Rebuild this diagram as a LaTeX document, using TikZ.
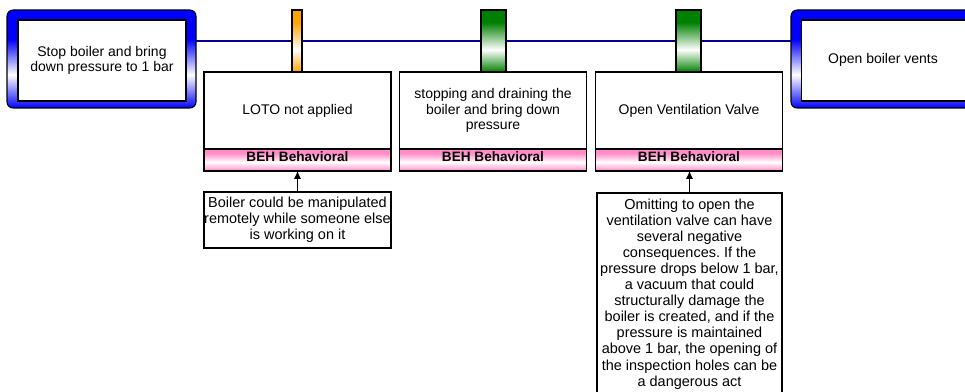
\documentclass[tikz,border=0pt]{standalone}
\usepackage{fontspec}
\setmainfont{Liberation Sans}
\usetikzlibrary{arrows.meta}
\frenchspacing

\definecolor{framebl}{RGB}{0,0,255}
\definecolor{railbl}{RGB}{0,0,140}
\definecolor{taborange}{RGB}{255,165,0}
\definecolor{tabgreen}{RGB}{0,128,0}
\definecolor{bandpink}{RGB}{255,140,200}

% vertical colour bands: 0bp = bottom, the 25bp..75bp range covers the shape
\pgfdeclareverticalshading{frameshade}{100bp}{color(0bp)=(framebl); color(25bp)=(framebl); color(42bp)=(white); color(60bp)=(framebl); color(100bp)=(framebl)}
\pgfdeclareverticalshading{orangeshade}{100bp}{color(0bp)=(taborange); color(25bp)=(taborange); color(43bp)=(white); color(65bp)=(taborange); color(100bp)=(taborange)}
\pgfdeclareverticalshading{greenshade}{100bp}{color(0bp)=(tabgreen); color(25bp)=(tabgreen); color(43bp)=(white); color(65bp)=(tabgreen); color(100bp)=(tabgreen)}
\pgfdeclareverticalshading{pinkshade}{100bp}{color(0bp)=(bandpink); color(25bp)=(bandpink); color(45bp)=(white); color(66bp)=(bandpink); color(75bp)=(bandpink); color(100bp)=(bandpink)}

\begin{document}
\begin{tikzpicture}[x=0.75pt,y=-0.75pt,
  every node/.style={outer sep=0pt, inner sep=0pt, font=\fontsize{10.5}{11.7}\selectfont},
  boxline/.style={draw=black, line width=0.8pt},
  frame/.style={boxline, rounded corners=4.5pt, shading=frameshade,
    minimum width=141.75pt, minimum height=73.5pt},
  framein/.style={boxline, fill=white, minimum width=126pt, minimum height=60.75pt, align=center},
  tabshape/.style={boxline, minimum height=46.5pt},
  event/.style={boxline, fill=white, minimum width=140.25pt, minimum height=57.75pt, align=center},
  band/.style={boxline, shading=pinkshade, minimum width=140.25pt, minimum height=16.5pt,
    text depth=4.5pt, font=\fontsize{10.2}{12}\selectfont\bfseries},
  note/.style={boxline, fill=white, minimum width=140.25pt, align=center,
    font=\fontsize{10.85}{12.05}\selectfont},
  cause/.style={draw=black, line width=0.8pt, -{Latex[length=6pt,width=5.5pt]}}
]
\useasboundingbox (0,0) rectangle (965,392);
\clip (0,0) rectangle (965,392);

% start and end states
\node[frame] (startframe) at (101.5,59) {};
\node[framein] (start) at (102,60.5) {Stop boiler and bring\\down pressure to 1 bar};
\node[frame] (endframe) at (885.5,59) {};
\node[framein] (finish) at (885.5,60.5) {};
\node (finishtext) at (883,60) {Open boiler vents};

% rail joining the two states
\coordinate (rail) at (0,41);
\draw[railbl, line width=1.5pt] (startframe.east |- rail) -- (endframe.west |- rail);

% tabs on the rail
\node[tabshape, shading=orangeshade, minimum width=7.5pt] (tabA) at (297,41) {};
\node[tabshape, shading=greenshade, minimum width=18.75pt] (tabB) at (493.5,41) {};
\node[tabshape, shading=greenshade, minimum width=18.75pt] (tabC) at (688.5,41) {};

% event boxes with their category band
\node[event] (evA) at (297.5,110.5) {LOTO not applied};
\node[band, anchor=north] (bandA) at (evA.south) {BEH Behavioral};
\node[event] (evB) at (493,110.5) {stopping and draining the\\boiler and bring down\\pressure};
\node[band, anchor=north] (bandB) at (evB.south) {BEH Behavioral};
\node[event] (evC) at (689,110.5) {Open Ventilation Valve};
\node[band, anchor=north] (bandC) at (evC.south) {BEH Behavioral};

% explanatory notes
\node[note, anchor=north, minimum height=42pt] (noteA) at (297.5,192)
  {Boiler could be manipulated\\remotely while someone else\\is working on it};
\node[note, anchor=north, minimum width=138.75pt, minimum height=151.5pt] (noteC) at (689.5,193)
  {Omitting to open the\\ventilation valve can have\\several negative\\consequences. If the\\pressure drops below 1 bar,\\a vacuum that could\\structurally damage the\\boiler is created, and if the\\pressure is maintained\\above 1 bar, the opening of\\the inspection holes can be\\a dangerous act};

\draw[cause] (noteA.north) -- (bandA.south);
\draw[cause] (noteC.north) -- (noteC.north |- bandC.south);
\end{tikzpicture}
\end{document}
